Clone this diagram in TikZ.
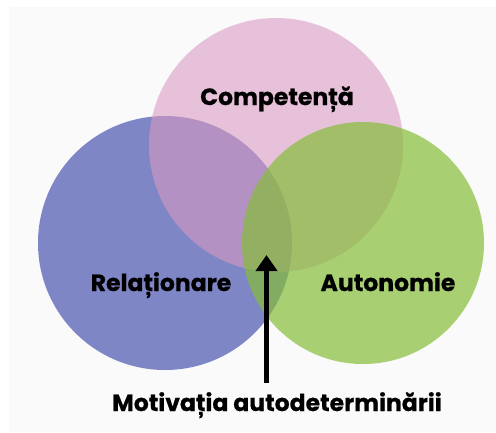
\documentclass[tikz,border=0pt]{standalone}
\usepackage{fontspec}
\setmainfont{Poppins}[UprightFont=* Bold, FakeBold=0.6]
\usetikzlibrary{arrows.meta}
\definecolor{bgc}{RGB}{250,250,250}
\definecolor{bluec}{RGB}{127,134,198}
\definecolor{pinkc}{RGB}{219,153,194}
\definecolor{greenc}{RGB}{134,189,57}
\tikzset{
  venn/.style={circle, inner sep=0pt, draw=none},
  lbl/.style={font=\fontsize{23.5}{26}\selectfont, text=black, inner sep=0pt, anchor=base},
}
\begin{document}
\begin{tikzpicture}[x=1pt,y=-1pt]
\useasboundingbox (0,0) rectangle (496,432);
\fill[white] (0,0) rectangle (496,432);
\fill[bgc] (9,7) rectangle (496,432);
\node[venn, minimum size=254pt, fill=bluec] (rel) at (165,243) {};
\node[venn, minimum size=254pt, fill=pinkc, fill opacity=0.585] (comp) at (276,145) {};
\node[venn, minimum size=242pt, fill=greenc, fill opacity=0.7] (auto) at (363,243) {};
\node[lbl] (tcomp) at (277,105) {Competență};
\node[lbl] (trel) at (161,291) {Relaționare};
\node[lbl] (tauto) at (388,291) {Autonomie};
\node[lbl] (tmot) at (277,411) {Motivația autodeterminării};
\coordinate (base) at (266.5,383);
\coordinate (tip) at (266.5,255);
\draw[line width=5pt, -{Triangle[width=21pt,length=16pt]}] (base) -- (tip);
\end{tikzpicture}
\end{document}
